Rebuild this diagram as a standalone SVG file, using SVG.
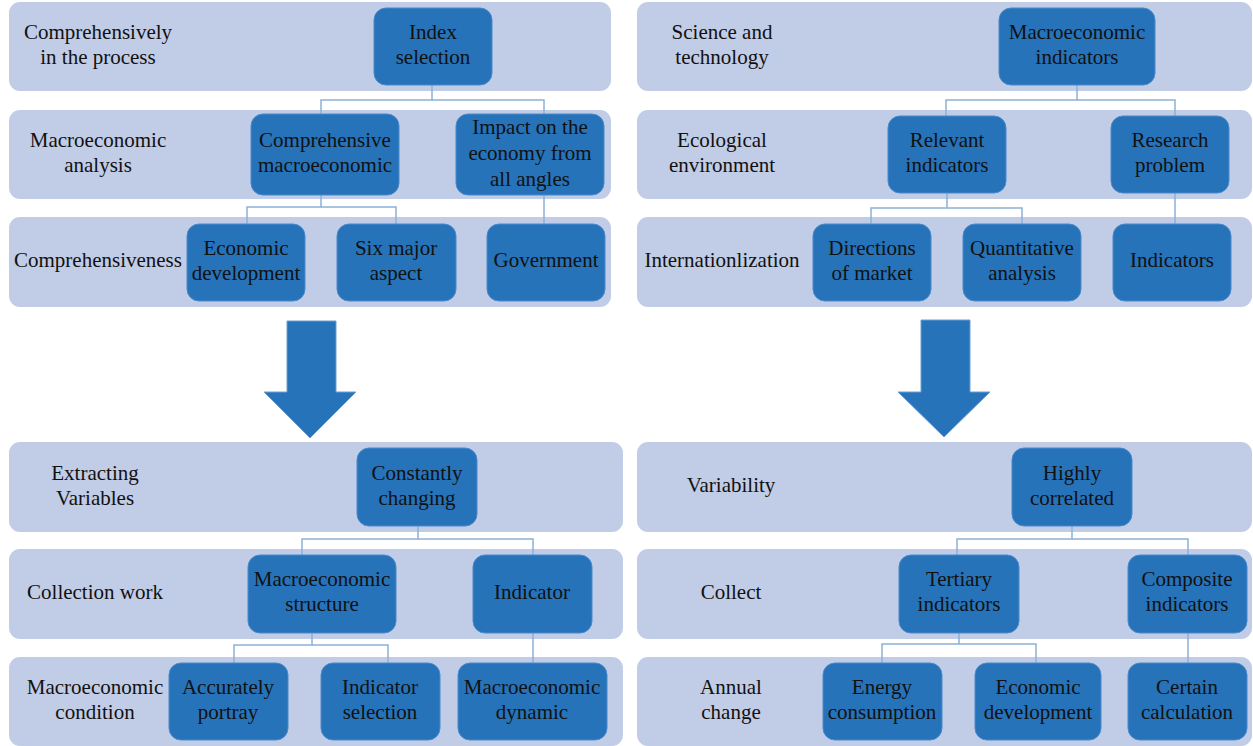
<svg xmlns="http://www.w3.org/2000/svg" width="1253" height="746" viewBox="0 0 1253 746">
<style>
.bar{fill:#C1CCE6;}
.box{fill:#2673BA;stroke:#4A8ACB;stroke-width:1;}
.t{font-family:"Liberation Serif","DejaVu Serif",serif;font-size:21px;fill:#111;text-anchor:middle;}
.c{fill:none;stroke:#8DB1D8;stroke-width:1.5;}
.arr{fill:#2673BA;stroke:#6D9FD3;stroke-width:1;}
</style>
<rect width="1253" height="746" fill="#fff"/>
<g id="bars">
<rect class="bar" x="9" y="2" width="602" height="89" rx="11"/>
<rect class="bar" x="9" y="110" width="602" height="89" rx="11"/>
<rect class="bar" x="9" y="217" width="602" height="90" rx="11"/>
<rect class="bar" x="637" y="2" width="615" height="89" rx="11"/>
<rect class="bar" x="637" y="110" width="615" height="89" rx="11"/>
<rect class="bar" x="637" y="217" width="615" height="90" rx="11"/>
<rect class="bar" x="9" y="442" width="614" height="90" rx="11"/>
<rect class="bar" x="9" y="549" width="614" height="90" rx="11"/>
<rect class="bar" x="9" y="657" width="614" height="89" rx="11"/>
<rect class="bar" x="637" y="442" width="615" height="90" rx="11"/>
<rect class="bar" x="637" y="549" width="615" height="90" rx="11"/>
<rect class="bar" x="637" y="657" width="615" height="89" rx="11"/>
</g>
<g id="row-labels">
<text class="t" x="98" y="39">Comprehensively</text><text class="t" x="98" y="64">in the process</text>
<text class="t" x="98" y="147">Macroeconomic</text><text class="t" x="98" y="172">analysis</text>
<text class="t" x="98" y="267">Comprehensiveness</text>
<text class="t" x="722" y="39">Science and</text><text class="t" x="722" y="64">technology</text>
<text class="t" x="722" y="147">Ecological</text><text class="t" x="722" y="172">environment</text>
<text class="t" x="722" y="267">Internationlization</text>
<text class="t" x="95" y="480">Extracting</text><text class="t" x="95" y="505">Variables</text>
<text class="t" x="95" y="599">Collection work</text>
<text class="t" x="95" y="694">Macroeconomic</text><text class="t" x="95" y="719">condition</text>
<text class="t" x="731" y="492">Variability</text>
<text class="t" x="731" y="599">Collect</text>
<text class="t" x="731" y="694">Annual</text><text class="t" x="731" y="719">change</text>
</g>
<g id="connectors">
<polyline class="c" points="432,85 432,100 321,100 321,114"/>
<polyline class="c" points="432,100 544,100 544,114"/>
<polyline class="c" points="321,195 321,207 247,207 247,224"/>
<polyline class="c" points="321,207 396,207 396,224"/>
<polyline class="c" points="544,195 544,224"/>
<polyline class="c" points="1077,85 1077,100 946,100 946,116"/>
<polyline class="c" points="1077,100 1175,100 1175,116"/>
<polyline class="c" points="947,193 947,208 871,208 871,224"/>
<polyline class="c" points="947,208 1022,208 1022,224"/>
<polyline class="c" points="1175,193 1175,224"/>
<polyline class="c" points="418,526 418,539 302,539 302,555"/>
<polyline class="c" points="418,539 533,539 533,555"/>
<polyline class="c" points="312,633 312,645 234,645 234,663"/>
<polyline class="c" points="312,645 388,645 388,663"/>
<polyline class="c" points="533,633 533,663"/>
<polyline class="c" points="1072,526 1072,539 957,539 957,555"/>
<polyline class="c" points="1072,539 1188,539 1188,555"/>
<polyline class="c" points="959,633 959,644 882,644 882,663"/>
<polyline class="c" points="959,644 1036,644 1036,663"/>
<polyline class="c" points="1188,633 1188,663"/>
<polygon class="arr" points="287,321 336,321 336,392 356,392 310,438 264,392 287,392"/>
<polygon class="arr" points="921,320 970,320 970,392 990,392 944,437 898,392 921,392"/>
</g>
<g id="n-index"><rect class="box" x="374" y="8" width="118" height="77" rx="12"/><text class="t" x="433" y="39">Index</text><text class="t" x="433" y="64">selection</text></g>
<g id="n-comp-macro"><rect class="box" x="251" y="114" width="148" height="81" rx="12"/><text class="t" x="325" y="147">Comprehensive</text><text class="t" x="325" y="172">macroeconomic</text></g>
<g id="n-impact"><rect class="box" x="456" y="114" width="148" height="81" rx="12"/><text class="t" x="530" y="134">Impact on the</text><text class="t" x="530" y="160">economy from</text><text class="t" x="530" y="186">all angles</text></g>
<g id="n-econ-dev1"><rect class="box" x="187" y="224" width="118" height="77" rx="12"/><text class="t" x="246" y="255">Economic</text><text class="t" x="246" y="280">development</text></g>
<g id="n-six"><rect class="box" x="337" y="224" width="119" height="77" rx="12"/><text class="t" x="396" y="255">Six major</text><text class="t" x="396" y="280">aspect</text></g>
<g id="n-gov"><rect class="box" x="487" y="224" width="118" height="77" rx="12"/><text class="t" x="546" y="267">Government</text></g>
<g id="n-macro-ind"><rect class="box" x="999" y="8" width="156" height="77" rx="12"/><text class="t" x="1077" y="39">Macroeconomic</text><text class="t" x="1077" y="64">indicators</text></g>
<g id="n-relevant"><rect class="box" x="888" y="116" width="118" height="77" rx="12"/><text class="t" x="947" y="147">Relevant</text><text class="t" x="947" y="172">indicators</text></g>
<g id="n-research"><rect class="box" x="1111" y="116" width="118" height="77" rx="12"/><text class="t" x="1170" y="147">Research</text><text class="t" x="1170" y="172">problem</text></g>
<g id="n-directions"><rect class="box" x="813" y="224" width="118" height="77" rx="12"/><text class="t" x="872" y="255">Directions</text><text class="t" x="872" y="280">of market</text></g>
<g id="n-quant"><rect class="box" x="963" y="224" width="118" height="77" rx="12"/><text class="t" x="1022" y="255">Quantitative</text><text class="t" x="1022" y="280">analysis</text></g>
<g id="n-indicators"><rect class="box" x="1113" y="224" width="118" height="77" rx="12"/><text class="t" x="1172" y="267">Indicators</text></g>
<g id="n-constantly"><rect class="box" x="357" y="448" width="120" height="78" rx="12"/><text class="t" x="417" y="480">Constantly</text><text class="t" x="417" y="505">changing</text></g>
<g id="n-macro-struct"><rect class="box" x="248" y="555" width="148" height="78" rx="12"/><text class="t" x="322" y="586">Macroeconomic</text><text class="t" x="322" y="611">structure</text></g>
<g id="n-indicator"><rect class="box" x="473" y="555" width="119" height="78" rx="12"/><text class="t" x="532" y="599">Indicator</text></g>
<g id="n-accurately"><rect class="box" x="169" y="663" width="119" height="77" rx="12"/><text class="t" x="228" y="694">Accurately</text><text class="t" x="228" y="719">portray</text></g>
<g id="n-ind-sel"><rect class="box" x="321" y="663" width="119" height="77" rx="12"/><text class="t" x="380" y="694">Indicator</text><text class="t" x="380" y="719">selection</text></g>
<g id="n-macro-dyn"><rect class="box" x="458" y="663" width="149" height="77" rx="12"/><text class="t" x="532" y="694">Macroeconomic</text><text class="t" x="532" y="719">dynamic</text></g>
<g id="n-highly"><rect class="box" x="1012" y="448" width="120" height="78" rx="12"/><text class="t" x="1072" y="480">Highly</text><text class="t" x="1072" y="505">correlated</text></g>
<g id="n-tertiary"><rect class="box" x="899" y="555" width="120" height="78" rx="12"/><text class="t" x="959" y="586">Tertiary</text><text class="t" x="959" y="611">indicators</text></g>
<g id="n-composite"><rect class="box" x="1128" y="555" width="119" height="78" rx="12"/><text class="t" x="1187" y="586">Composite</text><text class="t" x="1187" y="611">indicators</text></g>
<g id="n-energy"><rect class="box" x="823" y="663" width="119" height="77" rx="12"/><text class="t" x="882" y="694">Energy</text><text class="t" x="882" y="719">consumption</text></g>
<g id="n-econ-dev2"><rect class="box" x="975" y="663" width="126" height="77" rx="12"/><text class="t" x="1038" y="694">Economic</text><text class="t" x="1038" y="719">development</text></g>
<g id="n-certain"><rect class="box" x="1128" y="663" width="119" height="77" rx="12"/><text class="t" x="1187" y="694">Certain</text><text class="t" x="1187" y="719">calculation</text></g>
</svg>
